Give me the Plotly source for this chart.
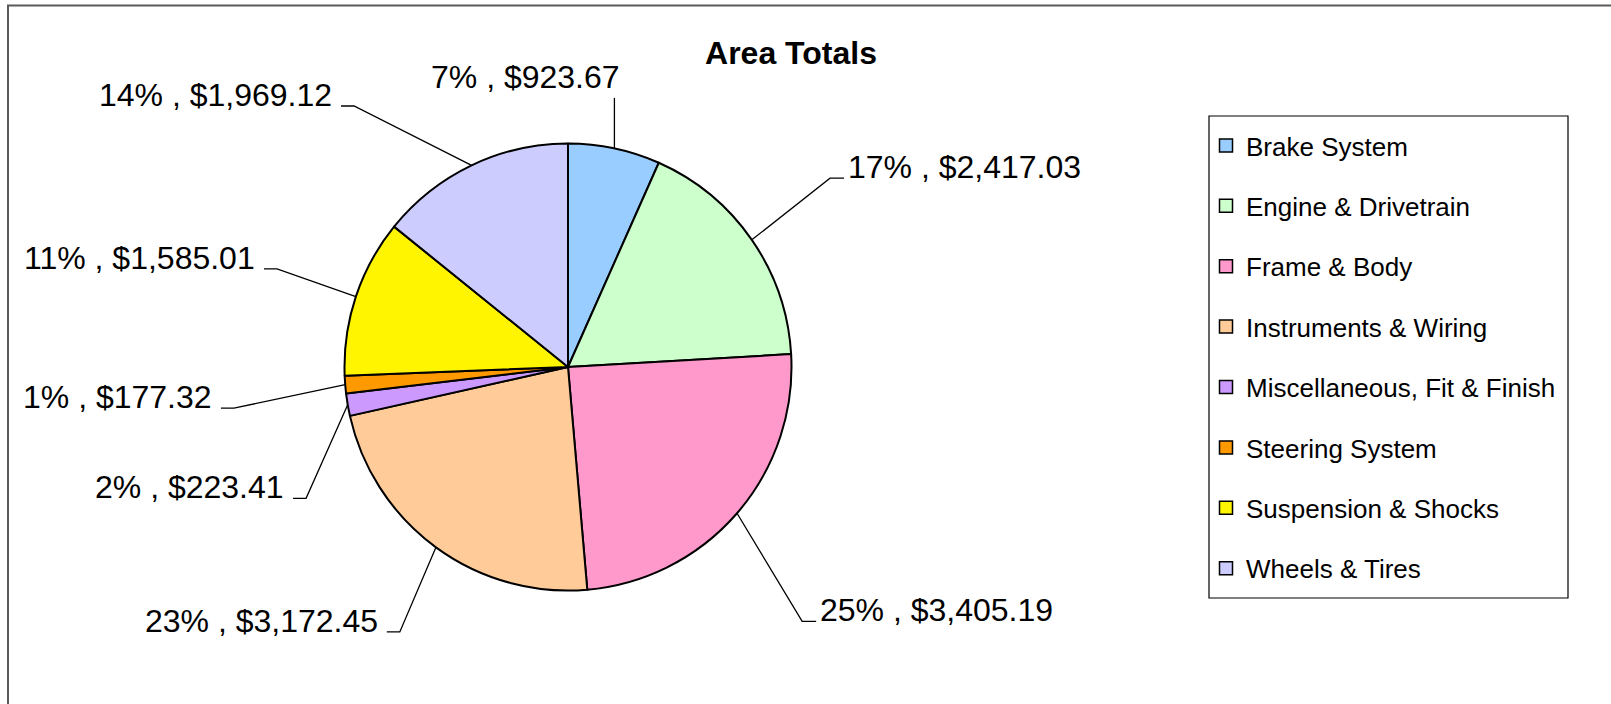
import math
import plotly.graph_objects as go

# ---------------- data ----------------
categories = [
    "Brake System",
    "Engine & Drivetrain",
    "Frame & Body",
    "Instruments & Wiring",
    "Miscellaneous, Fit & Finish",
    "Steering System",
    "Suspension & Shocks",
    "Wheels & Tires",
]
values = [923.67, 2417.03, 3405.19, 3172.45, 223.41, 177.32, 1585.01, 1969.12]
colors = ["#99CCFF", "#CCFFCC", "#FF99CC", "#FFCC99", "#CC99FF", "#FF9900", "#FFF500", "#CCCCFF"]
title_text = "Area Totals"

# ---------------- layout constants (pixels) ----------------
W, H = 1611, 704
CX, CY, R = 568, 367, 223.5
FONT = "Liberation Sans, Arial, Helvetica, sans-serif"

# label placement: (kind, angle shift from slice mid-angle [deg], radius factor of elbow)
label_place = [
    ("top", 0.0, 1.204),
    ("auto", -1.1, 1.445),
    ("auto", 6.5, 1.547),
    ("auto", -3.8, 1.404),
    ("auto", -16.9, 1.311),
    ("auto", -2.5, 1.506),
    ("auto", 0.3, 1.374),
    ("auto", -13.8, 1.51),
]

total = sum(values)
fig = go.Figure()

# pie
fig.add_trace(go.Pie(
    labels=categories,
    values=values,
    sort=False,
    direction="clockwise",
    rotation=0,
    textinfo="none",
    hoverinfo="label+value+percent",
    marker=dict(colors=colors, line=dict(color="black", width=2)),
    domain=dict(x=[(CX - R) / W, (CX + R) / W], y=[1 - (CY + R) / H, 1 - (CY - R) / H]),
    showlegend=False,
))

# leader lines + labels
annotations = []
cum = 0.0
for cat, v, (kind, dth, k) in zip(categories, values, label_place):
    frac = v / total
    mid = (cum + frac / 2) * 360.0
    cum += frac
    th = math.radians(mid)
    ex, ey = CX + R * math.sin(th), CY - R * math.cos(th)
    txt = f"{round(frac * 100):.0f}% , ${v:,.2f}"
    if kind == "top":
        px_, py_ = ex, CY - k * R
        xs, ys = [ex, px_], [ey, py_]
        ax, ay, anc = px_ + 8, py_ - 21, "right"
    else:
        t2 = math.radians(mid + dth)
        px_, py_ = CX + k * R * math.sin(t2), CY - k * R * math.cos(t2)
        if math.sin(t2) > 0:
            xs, ys = [ex, px_, px_ + 14], [ey, py_, py_]
            ax, ay, anc = px_ + 16, py_ - 11, "left"
        else:
            xs, ys = [ex, px_, px_ - 13], [ey, py_, py_]
            ax, ay, anc = px_ - 20, py_ - 11, "right"
    fig.add_trace(go.Scatter(x=xs, y=ys, mode="lines", line=dict(color="black", width=1.3),
                             hoverinfo="skip", showlegend=False))
    annotations.append(dict(x=ax, y=ay, xref="x", yref="y", text=txt, showarrow=False,
                            xanchor=anc, yanchor="middle",
                            font=dict(family=FONT, size=32, color="black")))

# legend entries
for i, (cat, col) in enumerate(zip(categories, colors)):
    fig.add_trace(go.Scatter(x=[None], y=[None], mode="markers", name=cat,
                             legendgroup=f"g{i}",
                             marker=dict(symbol="square", size=13, color=col,
                                         line=dict(color="black", width=1.5))))

fig.update_layout(
    width=W, height=H,
    margin=dict(l=0, r=0, t=0, b=0),
    paper_bgcolor="white", plot_bgcolor="rgba(0,0,0,0)",
    xaxis=dict(range=[0, W], visible=False, fixedrange=True),
    yaxis=dict(range=[H, 0], visible=False, fixedrange=True),
    title=dict(text=f"<b>{title_text}</b>", x=791 / W, y=1 - 53 / H, xanchor="center", yanchor="middle",
               font=dict(family=FONT, size=32, color="black")),
    legend=dict(x=1206 / W, y=1 - 122 / H, xanchor="left", yanchor="top",
                bgcolor="rgba(0,0,0,0)", borderwidth=0, tracegroupgap=23.6,
                font=dict(family=FONT, size=26, color="black")),
    annotations=annotations,
    shapes=[
        dict(type="rect", xref="x", yref="y", x0=8, y0=5.5, x1=W + 20, y1=H + 20,
             line=dict(color="#5a5a5a", width=2), layer="below"),
        dict(type="rect", xref="x", yref="y", x0=1209, y0=116, x1=1568, y1=598,
             line=dict(color="black", width=1.2), layer="below"),
    ],
    showlegend=True,
)

fig.write_html("out.html", config={"displayModeBar": False},
               post_script="document.body.style.margin='0';document.body.style.overflow='hidden';")
